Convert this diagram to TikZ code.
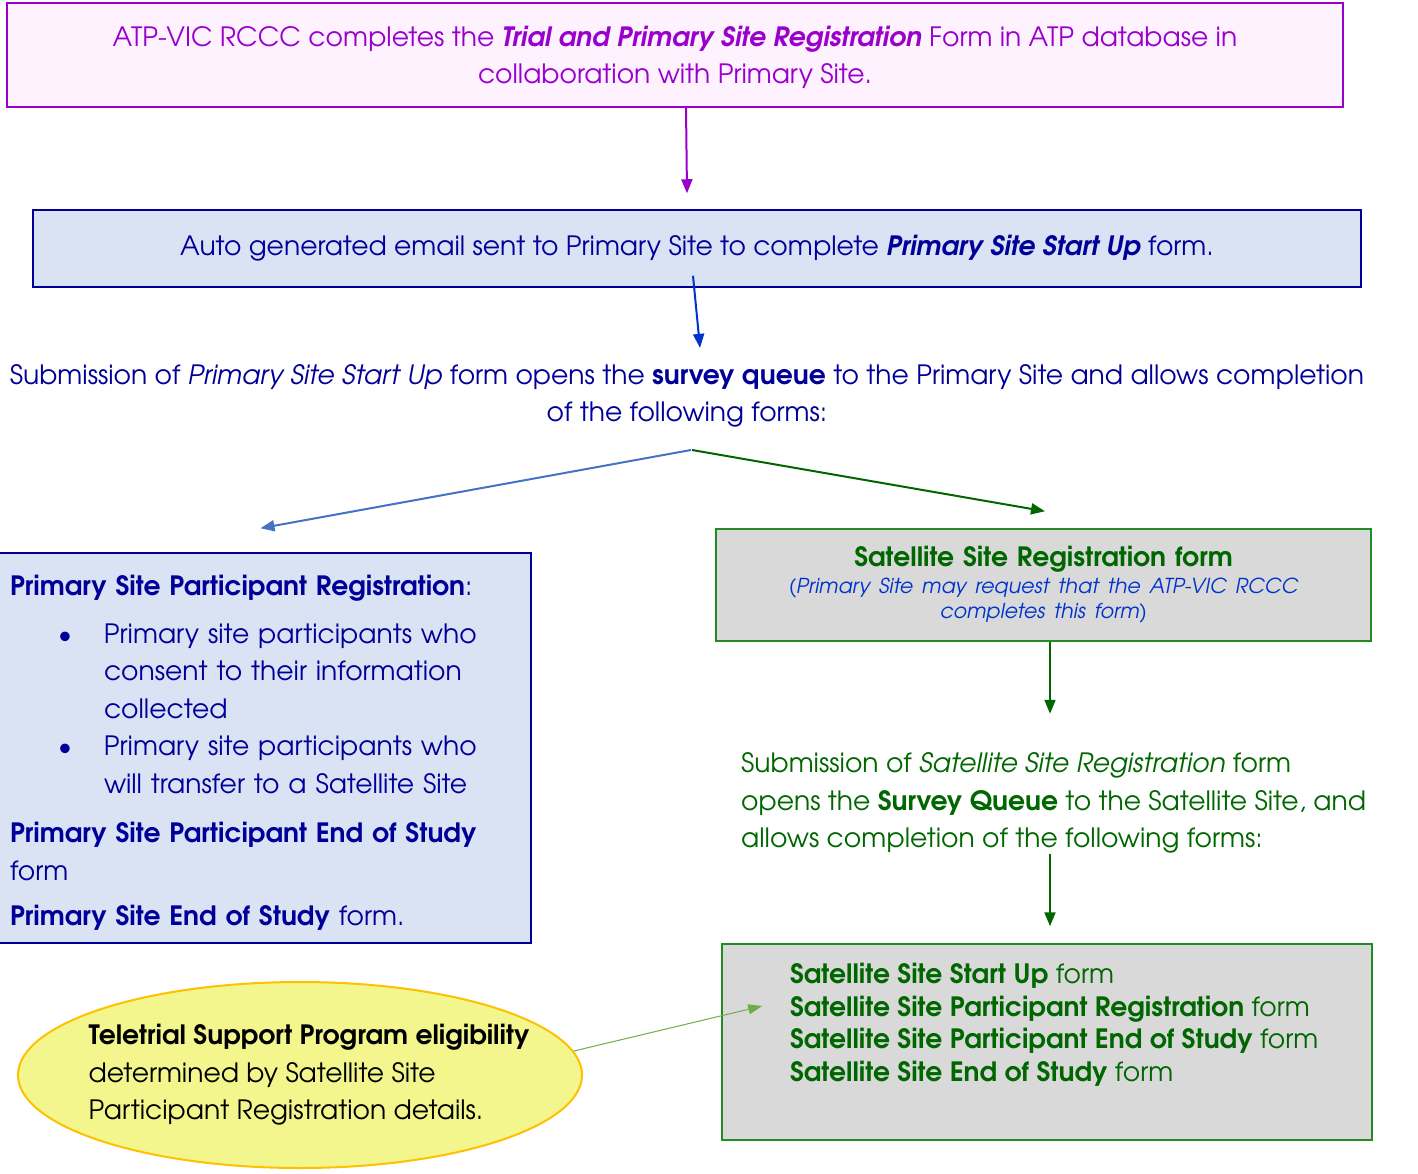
\documentclass[tikz,border=0pt]{standalone}
\usepackage{fontspec}
\setmainfont{TeX Gyre Adventor}
\usepackage{tikz}
\usetikzlibrary{arrows.meta,shapes.geometric,calc,positioning}
\definecolor{atppurple}{RGB}{153,0,204}
\definecolor{atppink}{RGB}{253,242,253}
\definecolor{atpnavy}{RGB}{0,0,153}
\definecolor{atpblue}{RGB}{0,51,204}
\definecolor{atplightblue}{RGB}{218,227,243}
\definecolor{atpsteel}{RGB}{68,114,196}
\definecolor{atpgreen}{RGB}{0,102,0}
\definecolor{atpframe}{RGB}{34,139,34}
\definecolor{atpgrey}{RGB}{217,217,217}
\definecolor{atpyellow}{RGB}{242,246,140}
\definecolor{atpgold}{RGB}{255,192,0}
\definecolor{atpleaf}{RGB}{112,173,71}
\newcommand{\bodyfont}{\fontsize{26.6}{37.5}\selectfont}
\newcommand{\smallfont}{\fontsize{20.6}{25}\selectfont}
\tikzstyle{pinkbox}=[draw=atppurple, fill=atppink, line width=1.5pt, text=atppurple, align=center, font=\bodyfont]
\tikzstyle{bluebox}=[draw=atpnavy, fill=atplightblue, line width=1.5pt, text=atpnavy, font=\bodyfont]
\tikzstyle{greybox}=[draw=atpframe, fill=atpgrey, line width=1.5pt, text=atpgreen, font=\bodyfont]
\tikzstyle{flow}=[line width=2pt, -{Triangle[length=14pt,width=11pt]}]
\begin{document}
\begin{tikzpicture}[x=1pt, y=-1pt]
 \useasboundingbox (0,0) rectangle (1418,1174);
 \node[pinkbox, minimum width=1336pt, minimum height=104pt] (atp) at (675,55)
  {\rule{0pt}{25pt}ATP-VIC RCCC completes the \textbf{\textit{Trial and Primary Site Registration}} Form in ATP database in\\ collaboration with Primary Site.};
 \node[bluebox, minimum width=1328pt, minimum height=77pt] (email) at (697,248.5)
  {Auto generated email sent to Primary Site to complete \textbf{\textit{Primary Site Start Up}} form.};
 \node[text=atpnavy, font=\bodyfont, align=center] (subq) at (687,396)
  {Submission of \textit{Primary Site Start Up} form opens the \textbf{survey queue} to the Primary Site and allows completion\\ of the following forms:};
 \coordinate (fork) at (691,450);
%
 \node[bluebox, minimum width=533pt, minimum height=390pt, text width=509pt, align=left] (pri) at (264.5,748)
  {\rule{0pt}{30pt}\textbf{Primary Site Participant Registration}:\\[10pt]
   \hspace*{48pt}\makebox[46pt][l]{\textbullet}Primary site participants who\\
   \hspace*{94pt}consent to their information\\
   \hspace*{94pt}collected\\
   \hspace*{48pt}\makebox[46pt][l]{\textbullet}Primary site participants who\\
   \hspace*{94pt}will transfer to a Satellite Site\\[12pt]
   \textbf{Primary Site Participant End of Study}\\
   form\\[8pt]
   \textbf{Primary Site End of Study} form.};
%
 \node[greybox, minimum width=655pt, minimum height=112pt, text width=640pt, align=center] (satreg) at (1043.5,585)
  {\textbf{Satellite Site Registration form}\par\vspace{2pt}
   {\smallfont\color{atpblue}\itshape (Primary Site may request that the ATP-VIC RCCC\\ completes this form)\par}};
 \node[text=atpgreen, font=\bodyfont, align=left, anchor=west, inner sep=0pt] (satsub) at (741,803)
  {Submission of \textit{Satellite Site Registration} form\\
   opens the \textbf{Survey Queue} to the Satellite Site, and\\
   allows completion of the following forms:};
 \node[greybox, minimum width=650pt, minimum height=196pt, inner sep=0pt] (satforms) at (1047,1042)
  {\parbox[c][176pt][t]{630pt}{\fontsize{26.6}{32.7}\selectfont\leftskip=58pt\vspace*{9pt}
   \textbf{Satellite Site Start Up} form\\
   \textbf{Satellite Site Participant Registration} form\\
   \textbf{Satellite Site Participant End of Study} form\\
   \textbf{Satellite Site End of Study} form}};
%
 \node[ellipse, draw=atpgold, fill=atpyellow, line width=2pt, minimum width=564pt, minimum height=186pt,
  inner xsep=-33pt, inner ysep=0pt, align=left, font=\bodyfont] (tsp) at (300,1075)
  {\hspace*{18pt}\textbf{Teletrial Support Program eligibility}\\
   \hspace*{18pt}determined by Satellite Site\\
   \hspace*{18pt}Participant Registration details.};
%
 \draw[flow, atppurple] ($(atp.south)+(11,0)$) -- ($(atp.south |- email.north)+(12,-16)$);
 \draw[flow, atpblue] ($(email.south)+(-4,-12)$) -- ($(subq.north)+(13,-13)$);
 \draw[flow, atpsteel] (fork) -- ($(pri.north)+(-4,-24)$);
 \draw[flow, atpgreen] ($(fork)+(1,0)$) -- ($(satreg.north)+(1.5,-17)$);
 \draw[flow, atpgreen] ($(satreg.south)+(6.5,0)$) -- ($(satreg.south)+(6.5,72)$);
 \draw[flow, atpgreen] ($(satforms.north)+(3,-89)$) -- ($(satforms.north)+(3,-17)$);
 \draw[atpleaf, line width=1pt, -{Triangle[length=14pt,width=10pt]}] (tsp.5) -- ($(satforms.west)+(41,-36)$);
\end{tikzpicture}
\end{document}
